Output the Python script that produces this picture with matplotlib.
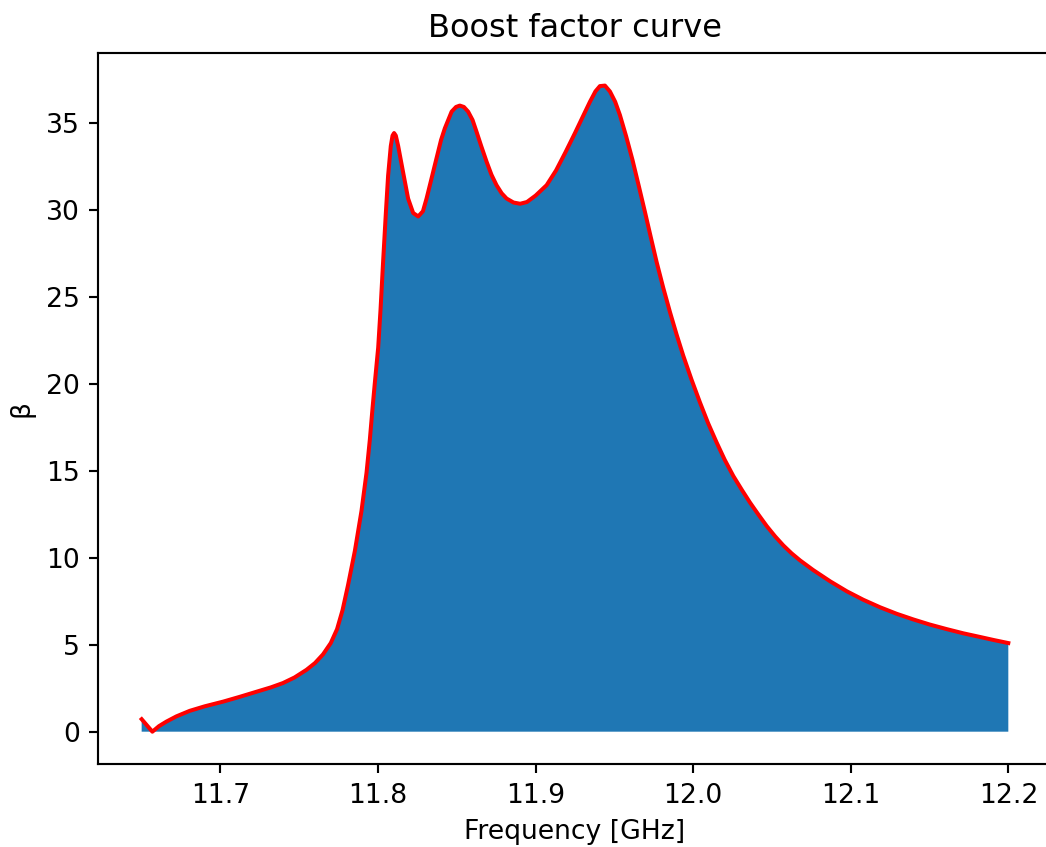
import matplotlib
matplotlib.use("Agg")
import matplotlib.pyplot as plt
import numpy as np

# Boost factor vs frequency (GHz)
freq = np.array([
    11.6500, 11.6568, 11.6610, 11.6657, 11.6720, 11.6805, 11.6900, 11.7017,
    11.7120, 11.7229, 11.7320, 11.7397, 11.7470, 11.7546, 11.7600, 11.7651,
    11.7700, 11.7740, 11.7775, 11.7810, 11.7853, 11.7895, 11.7927, 11.7948,
    11.7965, 11.7979, 11.8001, 11.8016, 11.8032, 11.8050, 11.8064, 11.8081,
    11.8092, 11.8102, 11.8113, 11.8128, 11.8159, 11.8191, 11.8223, 11.8255,
    11.8285, 11.8308, 11.8340, 11.8371, 11.8400, 11.8424, 11.8467, 11.8495,
    11.8519, 11.8545, 11.8572, 11.8600, 11.8625, 11.8655, 11.8689, 11.8720,
    11.8752, 11.8785, 11.8816, 11.8860, 11.8902, 11.8945, 11.9000, 11.9070,
    11.9130, 11.9190, 11.9250, 11.9300, 11.9345, 11.9380, 11.9408, 11.9440,
    11.9472, 11.9505, 11.9535, 11.9575, 11.9615, 11.9655, 11.9694, 11.9730,
    11.9768, 11.9810, 11.9853, 11.9895, 11.9937, 11.9990, 12.0043, 12.0095,
    12.0149, 12.0200, 12.0255, 12.0310, 12.0361, 12.0415, 12.0467, 12.0520,
    12.0572, 12.0625, 12.0678, 12.0762, 12.0870, 12.0975, 12.1080, 12.1186,
    12.1290, 12.1397, 12.1500, 12.1610, 12.1715, 12.1821, 12.1910, 12.2000,
])
beta = np.array([
    0.72, 0.00, 0.32, 0.58, 0.88, 1.20, 1.46, 1.73,
    2.00, 2.30, 2.55, 2.80, 3.12, 3.56, 3.95, 4.45,
    5.10, 5.90, 7.00, 8.45, 10.40, 12.70, 14.90, 16.80,
    18.60, 20.00, 22.10, 24.30, 27.00, 29.90, 32.00, 33.70,
    34.30, 34.45, 34.30, 33.70, 32.20, 30.68, 29.85, 29.65,
    29.95, 30.68, 31.85, 32.99, 34.05, 34.72, 35.68, 35.95,
    36.03, 35.95, 35.68, 35.20, 34.53, 33.70, 32.80, 32.05,
    31.45, 30.98, 30.68, 30.45, 30.38, 30.48, 30.85, 31.45,
    32.30, 33.35, 34.45, 35.40, 36.25, 36.85, 37.15, 37.18,
    36.84, 36.25, 35.49, 34.25, 32.90, 31.40, 29.91, 28.50,
    27.03, 25.55, 24.14, 22.85, 21.64, 20.25, 18.95, 17.75,
    16.64, 15.65, 14.71, 13.90, 13.18, 12.48, 11.83, 11.24,
    10.72, 10.26, 9.86, 9.30, 8.65, 8.08, 7.59, 7.16,
    6.79, 6.46, 6.17, 5.90, 5.66, 5.45, 5.27, 5.10,
])

fig = plt.figure(figsize=(1046 / 192, 847 / 192), dpi=192)
ax = fig.add_axes([0.094, 0.098, 0.9114, 0.8391])

ax.fill_between(freq, beta)
ax.plot(freq, beta, color="red", lw=1.5)

ax.set_title("Boost factor curve")
ax.set_xlabel("Frequency [GHz]")
ax.set_ylabel("β")

fig.savefig("out.png", dpi=192)
